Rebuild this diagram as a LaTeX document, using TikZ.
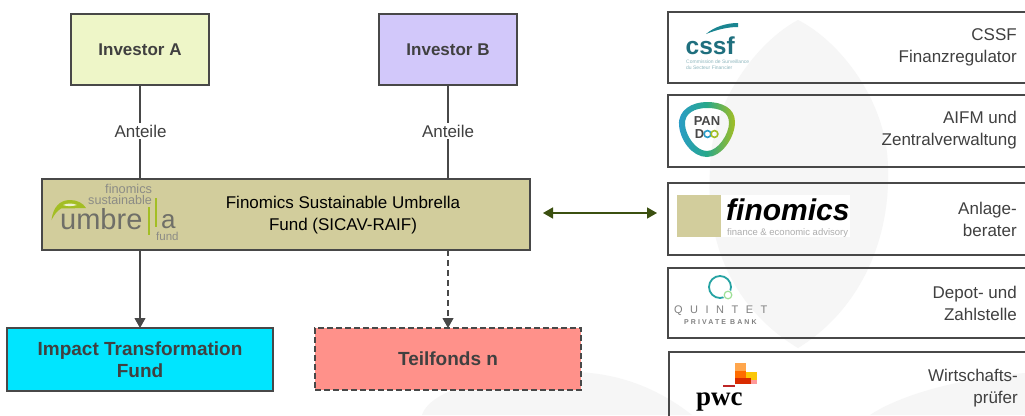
\documentclass[tikz,border=0pt]{standalone}
\usepackage{fontspec}
\setmainfont{Liberation Sans}
\newfontfamily\qfont[LetterSpace=68]{Liberation Sans}
\newfontfamily\pfont[LetterSpace=30]{Liberation Sans}
\newfontfamily\pwcfont{Liberation Serif}
\usetikzlibrary{arrows.meta}
\definecolor{ln}{HTML}{484848}
\definecolor{txt}{HTML}{404040}
\definecolor{bgshape}{HTML}{F6F6F6}
\definecolor{khaki}{HTML}{D2CD9C}
\definecolor{logogrey}{HTML}{6F6F68}
\definecolor{leaf}{HTML}{A3BE24}
\definecolor{cssfteal}{HTML}{1F6F7E}
\definecolor{dgreen}{HTML}{3B5010}
\definecolor{panblue}{HTML}{2A9CC8}
\definecolor{panmid}{HTML}{27A88A}
\newcommand{\fs}[1]{\fontsize{#1}{#1}\selectfont}
\tikzset{x=1pt,y=-1pt,
 fundbox/.style={draw=ln,line width=1.3pt,inner sep=0pt,outer sep=0pt,anchor=north west,align=center,text=txt},
 sidebox/.style={draw=ln,line width=1.1pt},
 sidelabel/.style={anchor=east,align=right,text=txt,font=\fs{17},inner sep=0pt},
 conn/.style={draw=ln,line width=1.05pt},
 tip/.style={-{Triangle[length=10pt,width=11pt]}},
 logotext/.style={inner sep=0pt,anchor=base west},
}
\begin{document}
\begin{tikzpicture}
\useasboundingbox (0,0) rectangle (1025,415);
\fill[white] (0,0) rectangle (1025,415);
% faint background shapes
\fill[bgshape] (798,20) .. controls (760,40) and (710,100) .. (710,170) .. controls (705,245) and (735,310) .. (798,348) .. controls (860,310) and (890,240) .. (888,170) .. controls (888,100) and (838,40) .. (798,20) -- cycle;
\fill[bgshape] (422,415) .. controls (432,385) and (510,372) .. (570,372) .. controls (620,372) and (660,390) .. (692,415) -- cycle;
\fill[bgshape] (870,415) .. controls (900,395) and (960,378) .. (1025,373) -- (1025,415) -- cycle;
% nodes
\node[fundbox,fill={rgb,255:red,238;green,246;blue,200},minimum width=138pt,minimum height=71pt,font=\fs{17}\bfseries] (a) at (71,14) {Investor A};
\node[fundbox,fill={rgb,255:red,210;green,200;blue,250},minimum width=138pt,minimum height=71pt,font=\fs{17}\bfseries] (b) at (379,14) {Investor B};
\node[fundbox,fill=khaki,minimum width=488pt,minimum height=71pt] (u) at (42,179) {};
\node[fundbox,fill={rgb,255:red,0;green,229;blue,255},minimum width=266pt,minimum height=63pt,font=\fs{19}\bfseries] (i) at (7,328) {Impact Transformation\\[3pt]Fund};
\node[fundbox,dashed,dash pattern=on 6pt off 3pt,fill={rgb,255:red,255;green,145;blue,138},minimum width=266pt,minimum height=62pt,font=\fs{19}\bfseries] (t) at (315,328) {Teilfonds n};
% umbrella label
\node[align=center,font=\fs{17},text=black,inner sep=0pt] (ul) at (343,215) {Finomics Sustainable Umbrella\\[5pt]Fund (SICAV-RAIF)};
% umbrella logo
\node[logotext,text=logogrey!80,font=\fs{12.8}] (lg1) at (105,193) {finomics};
\node[logotext,text=logogrey!80,font=\fs{12.6}] (lg2) at (88,204) {sustainable};
\node[logotext,text=logogrey,font=\fs{29}] (lg3) at (60,229) {umbre};
\node[logotext,text=logogrey,font=\fs{26}] (lg4) at (161,228.5) {a};
\node[logotext,text=logogrey!80,font=\fs{11.5}] (lg5) at (156,240) {fund};
\fill[leaf] (147.7,207) rectangle (150.3,235);
\fill[leaf] (154.7,198) rectangle (157.3,227);
\fill[leaf] (51.5,220) .. controls (53,207) and (60,200) .. (70,200) .. controls (77,200) and (83,203) .. (86,208) .. controls (78,208.5) and (66,208) .. (61,208.5) .. controls (57,211) and (54,215) .. (51.5,220) -- cycle;
\fill[white!80!leaf] (63,205) .. controls (68,203) and (72,203) .. (77,205) .. controls (72,206.5) and (67,206.5) .. (63,205) -- cycle;
% connector labels
\node[font=\fs{17},text=txt,inner sep=2pt] (la) at (140.5,131) {Anteile};
\node[font=\fs{17},text=txt,inner sep=2pt] (lb) at (448,131) {Anteile};
\draw[conn] (a.south) -- (la.north -| a.south);
\draw[conn] (la.south -| a.south) -- (a.south |- u.north);
\draw[conn] (b.south) -- (lb.north -| b.south);
\draw[conn] (lb.south -| b.south) -- (b.south |- u.north);
\draw[conn,tip] (u.south -| i.north) -- (i.north);
\draw[conn,dashed,dash pattern=on 6pt off 4pt,tip] (u.south -| t.north) -- (t.north);
% side boxes
\draw[sidebox] (1030,12) -- (668,12) -- (668,83) -- (1030,83);
\draw[sidebox] (1030,95) -- (668,95) -- (668,167) -- (1030,167);
\draw[sidebox] (1030,183) -- (668,183) -- (668,255) -- (1030,255);
\draw[sidebox] (1030,268) -- (668,268) -- (668,338) -- (1030,338);
\draw[sidebox] (1030,352) -- (669,352) -- (669,420);
\coordinate (dl) at (543,213);
\coordinate (dr) at (657,213);
\draw[draw=dgreen,fill=dgreen,line width=1.4pt,{Triangle[length=10pt,width=11pt]}-{Triangle[length=10pt,width=11pt]}] (dl) -- (dr);
% side labels
\node[sidelabel] (l1) at (1017,47) {CSSF\\[5pt]Finanzregulator};
\node[sidelabel] (l2) at (1017,130.5) {AIFM und\\[5pt]Zentralverwaltung};
\node[sidelabel] (l3) at (1017,219.5) {Anlage-\\[5pt]berater};
\node[sidelabel] (l4) at (1017,303) {Depot- und\\[5pt]Zahlstelle};
\node[sidelabel] (l5) at (1018,388) {Wirtschafts-\\[5pt]prüfer};
% cssf logo
\node[logotext,text=cssfteal,font=\fs{24.5}\bfseries] (c1) at (685.5,54) {cssf};
\fill[cssfteal!85!cyan] (706,34) .. controls (714,27) and (726,23) .. (738,23) -- (738,27) .. controls (727,27) and (716,30) .. (706,34) -- cycle;
\node[logotext,text=cssfteal!50,font=\fs{5}] (c2) at (686,63.5) {Commission de Surveillance};
\node[logotext,text=cssfteal!50,font=\fs{5}] (c3) at (686,69.5) {du Secteur Financier};
% pandoo logo
\shade[left color=panblue,right color=leaf,middle color=panmid,even odd rule]
 (679,125) .. controls (678,110) and (692,102) .. (707,102) .. controls (722,102) and (735,108) .. (735,122) .. controls (735,137) and (722,157) .. (707,157) .. controls (692,157) and (680,140) .. (679,125) -- cycle
 (685,125) .. controls (684,113) and (695,108) .. (707,108) .. controls (720,108) and (729,112) .. (729,123) .. controls (729,134) and (718,151) .. (707,151) .. controls (696,151) and (686,136) .. (685,125) -- cycle;
\node[inner sep=0pt,text=ln,font=\fs{13}\bfseries] (p1) at (707,121.5) {PAN};
\node[inner sep=0pt,text=ln,font=\fs{13}\bfseries] (p2) at (699.5,134) {D};
\draw[panblue,line width=1.6pt] (707.5,134) circle (3.4pt);
\draw[leaf,line width=1.6pt] (714.5,134) circle (3.4pt);
% finomics logo
\fill[white] (721,195) rectangle (850,237);
\fill[khaki] (677,195) rectangle (721,237);
\node[logotext,text=black,font=\fs{30}\bfseries\itshape] (f1) at (726,220) {finomics};
\node[logotext,text=black!32,font=\fs{9.5}] (f2) at (727,235.5) {finance \& economic advisory};
% quintet logo
\draw[teal!60!cyan!70!gray,line width=1.8pt] (720,287) circle (11pt);
\draw[white,fill=white,line width=0.5pt] (728,295) circle (5pt);
\draw[leaf!70!cyan!70,line width=1.2pt] (728,295) circle (3.8pt);
\node[logotext,text=gray,font=\fs{11}\qfont] (q1) at (674,313) {QUINTET};
\node[logotext,text=gray,font=\fs{7}\pfont\bfseries] (q2) at (684,324) {PRIVATE BANK};
% pwc logo
\fill[orange!85!red] (735,363) rectangle (746,384);
\fill[orange!70!white] (735,363) rectangle (746,371);
\fill[yellow!60!orange] (746,372) rectangle (757,384);
\fill[red!60!orange!85!black] (735,378) rectangle (751,384);
\fill[pink!80!red] (751,380) rectangle (757,384);
\fill[red!70!black!85] (723,384.5) rectangle (735,386.5);
\node[logotext,text=black,font=\fs{27}\pwcfont\bfseries] (w1) at (696,405) {pwc};
\end{tikzpicture}
\end{document}
